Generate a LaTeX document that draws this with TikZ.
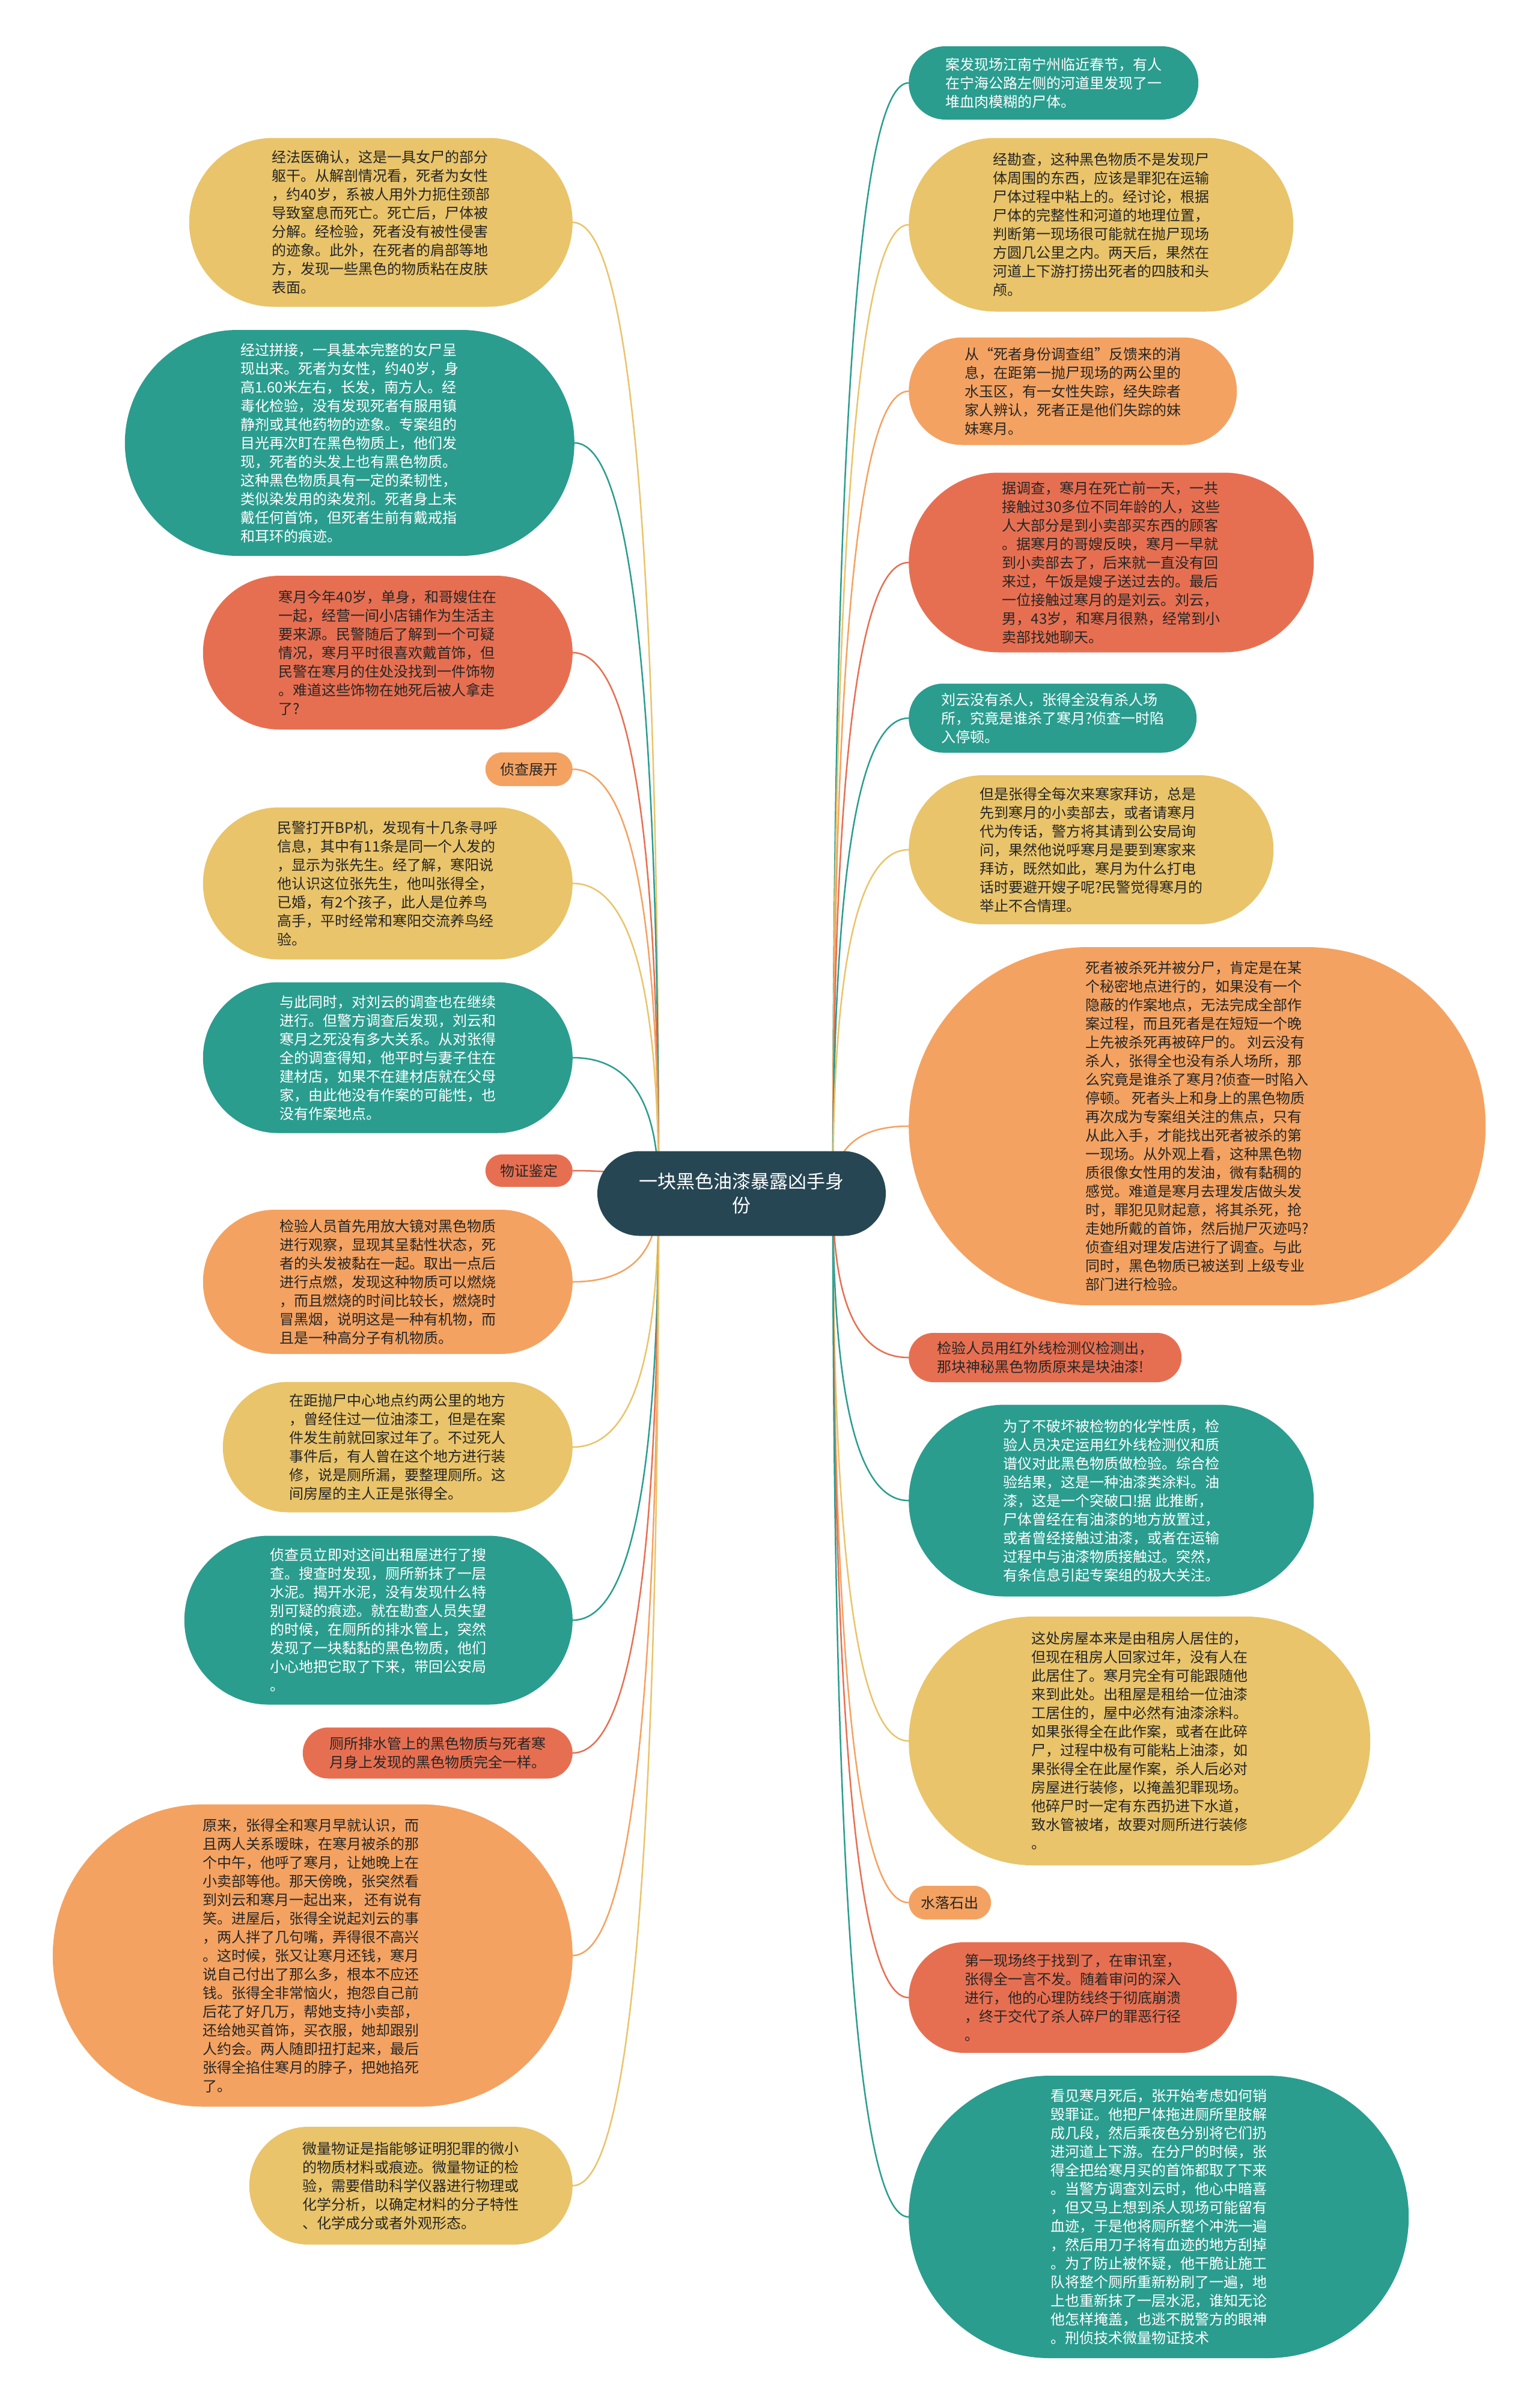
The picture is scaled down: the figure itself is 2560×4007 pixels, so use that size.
\documentclass[tikz,border=0pt]{standalone}
\usepackage{fontspec}
\setmainfont{Noto Sans CJK SC}
\usetikzlibrary{shapes.misc, calc, backgrounds}

\definecolor{mapteal}{HTML}{2A9D8F}
\definecolor{mapyellow}{HTML}{E9C46A}
\definecolor{maporange}{HTML}{F4A261}
\definecolor{mapred}{HTML}{E76F51}
\definecolor{mapdark}{HTML}{264653}

\begin{document}
\begin{tikzpicture}[
    x=1pt, y=-1pt,
    leaf/.style={rounded rectangle, align=left, inner xsep=3pt, inner ysep=4pt,
                 font=\fontsize{24}{31}\selectfont, text=black!85},
    tealleaf/.style={leaf, fill=mapteal, text=white},
    yellowleaf/.style={leaf, fill=mapyellow},
    orangeleaf/.style={leaf, fill=maporange},
    redleaf/.style={leaf, fill=mapred},
    rootbox/.style={rounded rectangle, align=center, fill=mapdark, text=white,
                    inner xsep=3pt, font=\fontsize{31}{40}\selectfont},
    branch/.style={line width=2.5pt,
        to path={.. controls ($(\tikztostart)!0.67!(\tikztostart|-\tikztotarget)$)
                 and ($(\tikztotarget)!0.67!(\tikztostart|-\tikztotarget)$) .. (\tikztotarget)}},
]
    \useasboundingbox (0,0) rectangle (2560,4007);

    %==================== ROOT ====================
    \node[rootbox, minimum width=486pt, minimum height=141pt] (root) at (1234,1986)
        {一块黑色油漆暴露凶手身\\份};
    \coordinate (rs) at ([xshift=152pt]root.center);
    \coordinate (ls) at ([xshift=-138pt]root.center);

    %==================== RIGHT SIDE ====================
    \node[tealleaf, minimum width=488pt, minimum height=122pt, anchor=west] (r1) at (1512,138)
        {案发现场江南宁州临近春节，有人\\在宁海公路左侧的河道里发现了一\\堆血肉模糊的尸体。};
    \node[yellowleaf, minimum width=646pt, minimum height=289pt, anchor=west] (r2) at (1512,374)
        {经勘查，这种黑色物质不是发现尸\\体周围的东西，应该是罪犯在运输\\尸体过程中粘上的。经讨论，根据\\尸体的完整性和河道的地理位置，\\判断第一现场很可能就在抛尸现场\\方圆几公里之内。两天后，果然在\\河道上下游打捞出死者的四肢和头\\颅。};
    \node[orangeleaf, minimum width=552pt, minimum height=179pt, anchor=west] (r3) at (1512,651)
        {从“死者身份调查组”反馈来的消\\息，在距第一抛尸现场的两公里的\\水玉区，有一女性失踪，经失踪者\\家人辨认，死者正是他们失踪的妹\\妹寒月。};
    \node[redleaf, minimum width=680pt, minimum height=299pt, anchor=west] (r4) at (1512,936)
        {据调查，寒月在死亡前一天，一共\\接触过30多位不同年龄的人，这些\\人大部分是到小卖部买东西的顾客\\。据寒月的哥嫂反映，寒月一早就\\到小卖部去了，后来就一直没有回\\来过，午饭是嫂子送过去的。最后\\一位接触过寒月的是刘云。刘云，\\男，43岁，和寒月很熟，经常到小\\卖部找她聊天。};
    \node[tealleaf, minimum width=485pt, minimum height=115pt, anchor=west] (r5) at (1512,1195)
        {刘云没有杀人，张得全没有杀人场\\所，究竟是谁杀了寒月?侦查一时陷\\入停顿。};
    \node[yellowleaf, minimum width=613pt, minimum height=248pt, anchor=west] (r6) at (1512,1414)
        {但是张得全每次来寒家拜访，总是\\先到寒月的小卖部去，或者请寒月\\代为传话，警方将其请到公安局询\\问，果然他说呼寒月是要到寒家来\\拜访，既然如此，寒月为什么打电\\话时要避开嫂子呢?民警觉得寒月的\\举止不合情理。};
    \node[orangeleaf, minimum width=966pt, minimum height=596pt, anchor=west] (r7) at (1512,1874)
        {死者被杀死并被分尸，肯定是在某\\个秘密地点进行的，如果没有一个\\隐蔽的作案地点，无法完成全部作\\案过程，而且死者是在短短一个晚\\上先被杀死再被碎尸的。 刘云没有\\杀人，张得全也没有杀人场所，那\\么究竟是谁杀了寒月?侦查一时陷入\\停顿。 死者头上和身上的黑色物质\\再次成为专案组关注的焦点，只有\\从此入手，才能找出死者被杀的第\\一现场。从外观上看，这种黑色物\\质很像女性用的发油，微有黏稠的\\感觉。难道是寒月去理发店做头发\\时，罪犯见财起意，将其杀死，抢\\走她所戴的首饰，然后抛尸灭迹吗?\\侦查组对理发店进行了调查。与此\\同时，黑色物质已被送到 上级专业\\部门进行检验。};
    \node[redleaf, minimum width=460pt, minimum height=82pt, anchor=west] (r8) at (1512,2259)
        {检验人员用红外线检测仪检测出，\\那块神秘黑色物质原来是块油漆!};
    \node[tealleaf, minimum width=680pt, minimum height=319pt, anchor=west] (r9) at (1512,2497)
        {为了不破坏被检物的化学性质，检\\验人员决定运用红外线检测仪和质\\谱仪对此黑色物质做检验。综合检\\验结果，这是一种油漆类涂料。油\\漆，这是一个突破口!据 此推断，\\尸体曾经在有油漆的地方放置过，\\或者曾经接触过油漆，或者在运输\\过程中与油漆物质接触过。突然，\\有条信息引起专案组的极大关注。};
    \node[yellowleaf, minimum width=774pt, minimum height=414pt, anchor=west] (r10) at (1512,2897)
        {这处房屋本来是由租房人居住的，\\但现在租房人回家过年，没有人在\\此居住了。寒月完全有可能跟随他\\来到此处。出租屋是租给一位油漆\\工居住的，屋中必然有油漆涂料。\\如果张得全在此作案，或者在此碎\\尸，过程中极有可能粘上油漆，如\\果张得全在此屋作案，杀人后必对\\房屋进行装修，以掩盖犯罪现场。\\他碎尸时一定有东西扔进下水道，\\致水管被堵，故要对厕所进行装修\\。};
    \node[orangeleaf, minimum width=143pt, minimum height=56pt, anchor=west] (r11) at (1512,3166) {水落石出};
    \node[redleaf, minimum width=552pt, minimum height=184pt, anchor=west] (r12) at (1512,3324)
        {第一现场终于找到了，在审讯室，\\张得全一言不发。随着审问的深入\\进行，他的心理防线终于彻底崩溃\\，终于交代了杀人碎尸的罪恶行径\\。};
    \node[tealleaf, minimum width=838pt, minimum height=470pt, anchor=west] (r13) at (1512,3689)
        {看见寒月死后，张开始考虑如何销\\毁罪证。他把尸体拖进厕所里肢解\\成几段，然后乘夜色分别将它们扔\\进河道上下游。在分尸的时候，张\\得全把给寒月买的首饰都取了下来\\。当警方调查刘云时，他心中暗喜\\，但又马上想到杀人现场可能留有\\血迹，于是他将厕所整个冲洗一遍\\，然后用刀子将有血迹的地方刮掉\\。为了防止被怀疑，他干脆让施工\\队将整个厕所重新粉刷了一遍，地\\上也重新抹了一层水泥，谁知无论\\他怎样掩盖，也逃不脱警方的眼神\\。刑侦技术微量物证技术};

    %==================== LEFT SIDE ====================
    \node[yellowleaf, minimum width=644pt, minimum height=281pt, anchor=east] (l1) at (953,370)
        {经法医确认，这是一具女尸的部分\\躯干。从解剖情况看，死者为女性\\，约40岁，系被人用外力扼住颈部\\导致窒息而死亡。死亡后，尸体被\\分解。经检验，死者没有被性侵害\\的迹象。此外，在死者的肩部等地\\方，发现一些黑色的物质粘在皮肤\\表面。};
    \node[tealleaf, minimum width=754pt, minimum height=376pt, anchor=east] (l2) at (956,737)
        {经过拼接，一具基本完整的女尸呈\\现出来。死者为女性，约40岁，身\\高1.60米左右，长发，南方人。经\\毒化检验，没有发现死者有服用镇\\静剂或其他药物的迹象。专案组的\\目光再次盯在黑色物质上，他们发\\现，死者的头发上也有黑色物质。\\这种黑色物质具有一定的柔韧性，\\类似染发用的染发剂。死者身上未\\戴任何首饰，但死者生前有戴戒指\\和耳环的痕迹。};
    \node[redleaf, minimum width=621pt, minimum height=256pt, anchor=east] (l3) at (953,1086)
        {寒月今年40岁，单身，和哥嫂住在\\一起，经营一间小店铺作为生活主\\要来源。民警随后了解到一个可疑\\情况，寒月平时很喜欢戴首饰，但\\民警在寒月的住处没找到一件饰物\\。难道这些饰物在她死后被人拿走\\了?};
    \node[orangeleaf, minimum width=151pt, minimum height=56pt, anchor=east] (l4) at (953,1280) {侦查展开};
    \node[yellowleaf, minimum width=621pt, minimum height=253pt, anchor=east] (l5) at (953,1470)
        {民警打开BP机，发现有十几条寻呼\\信息，其中有11条是同一个人发的\\，显示为张先生。经了解，寒阳说\\他认识这位张先生，他叫张得全，\\已婚，有2个孩子，此人是位养鸟\\高手，平时经常和寒阳交流养鸟经\\验。};
    \node[tealleaf, minimum width=621pt, minimum height=251pt, anchor=east] (l6) at (953,1760)
        {与此同时，对刘云的调查也在继续\\进行。但警方调查后发现，刘云和\\寒月之死没有多大关系。从对张得\\全的调查得知，他平时与妻子住在\\建材店，如果不在建材店就在父母\\家，由此他没有作案的可能性，也\\没有作案地点。};
    \node[redleaf, minimum width=151pt, minimum height=54pt, anchor=east] (l7) at (953,1948) {物证鉴定};
    \node[orangeleaf, minimum width=621pt, minimum height=240pt, anchor=east] (l8) at (953,2133)
        {检验人员首先用放大镜对黑色物质\\进行观察，显现其呈黏性状态，死\\者的头发被黏在一起。取出一点后\\进行点燃，发现这种物质可以燃烧\\，而且燃烧的时间比较长，燃烧时\\冒黑烟，说明这是一种有机物，而\\且是一种高分子有机物质。};
    \node[yellowleaf, minimum width=588pt, minimum height=217pt, anchor=east] (l9) at (953,2408)
        {在距抛尸中心地点约两公里的地方\\，曾经住过一位油漆工，但是在案\\件发生前就回家过年了。不过死人\\事件后，有人曾在这个地方进行装\\修，说是厕所漏，要整理厕所。这\\间房屋的主人正是张得全。};
    \node[tealleaf, minimum width=652pt, minimum height=281pt, anchor=east] (l10) at (953,2696)
        {侦查员立即对这间出租屋进行了搜\\查。搜查时发现，厕所新抹了一层\\水泥。揭开水泥，没有发现什么特\\别可疑的痕迹。就在勘查人员失望\\的时候，在厕所的排水管上，突然\\发现了一块黏黏的黑色物质，他们\\小心地把它取了下来，带回公安局\\。};
    \node[redleaf, minimum width=455pt, minimum height=85pt, anchor=east] (l11) at (953,2917)
        {厕所排水管上的黑色物质与死者寒\\月身上发现的黑色物质完全一样。};
    \node[orangeleaf, minimum width=871pt, minimum height=503pt, anchor=east] (l12) at (953,3254)
        {原来，张得全和寒月早就认识，而\\且两人关系暧昧，在寒月被杀的那\\个中午，他呼了寒月，让她晚上在\\小卖部等他。那天傍晚，张突然看\\到刘云和寒月一起出来， 还有说有\\笑。进屋后，张得全说起刘云的事\\，两人拌了几句嘴，弄得很不高兴\\。这时候，张又让寒月还钱，寒月\\说自己付出了那么多，根本不应还\\钱。张得全非常恼火，抱怨自己前\\后花了好几万，帮她支持小卖部，\\还给她买首饰，买衣服，她却跟别\\人约会。两人随即扭打起来，最后\\张得全掐住寒月的脖子，把她掐死\\了。};
    \node[yellowleaf, minimum width=544pt, minimum height=196pt, anchor=east] (l13) at (953,3637)
        {微量物证是指能够证明犯罪的微小\\的物质材料或痕迹。微量物证的检\\验，需要借助科学仪器进行物理或\\化学分析，以确定材料的分子特性\\、化学成分或者外观形态。};

    %==================== BRANCHES ====================
    \begin{scope}[on background layer]
        \fill[white] (0,0) rectangle (2560,4007);
        \draw[branch, mapteal] (rs) to (r1.west);
        \draw[branch, mapyellow] (rs) to (r2.west);
        \draw[branch, maporange] (rs) to (r3.west);
        \draw[branch, mapred] (rs) to (r4.west);
        \draw[branch, mapteal] (rs) to (r5.west);
        \draw[branch, mapyellow] (rs) to (r6.west);
        \draw[branch, maporange] (rs) to (r7.west);
        \draw[branch, mapred] (rs) to (r8.west);
        \draw[branch, mapteal] (rs) to (r9.west);
        \draw[branch, mapyellow] (rs) to (r10.west);
        \draw[branch, maporange] (rs) to (r11.west);
        \draw[branch, mapred] (rs) to (r12.west);
        \draw[branch, mapteal] (rs) to (r13.west);

        \draw[branch, mapyellow] (ls) to (l1.east);
        \draw[branch, mapteal] (ls) to (l2.east);
        \draw[branch, mapred] (ls) to (l3.east);
        \draw[branch, maporange] (ls) to (l4.east);
        \draw[branch, mapyellow] (ls) to (l5.east);
        \draw[branch, mapteal] (ls) to (l6.east);
        \draw[branch, mapred] (ls) to (l7.east);
        \draw[branch, maporange] (ls) to (l8.east);
        \draw[branch, mapyellow] (ls) to (l9.east);
        \draw[branch, mapteal] (ls) to (l10.east);
        \draw[branch, mapred] (ls) to (l11.east);
        \draw[branch, maporange] (ls) to (l12.east);
        \draw[branch, mapyellow] (ls) to (l13.east);
    \end{scope}

\end{tikzpicture}
\end{document}
